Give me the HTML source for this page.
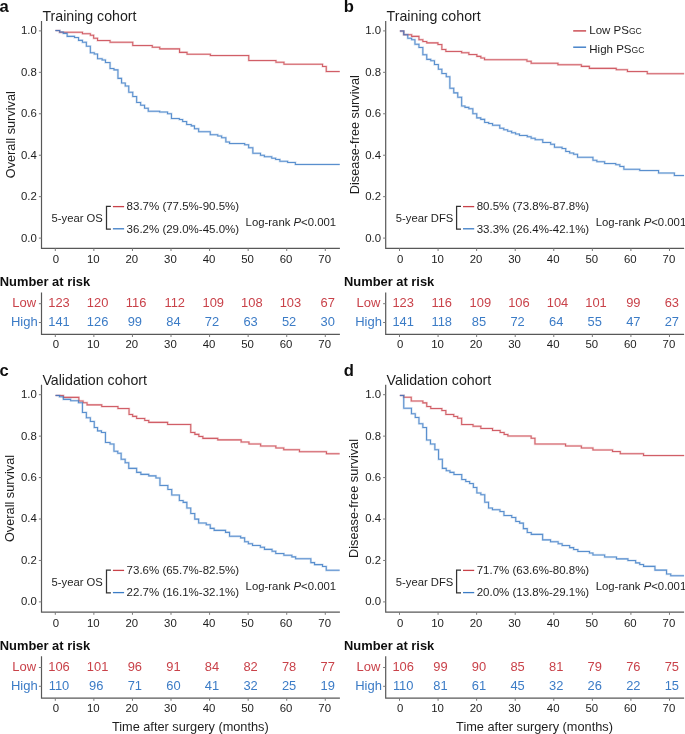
<!DOCTYPE html>
<html><head><meta charset="utf-8"><style>
html,body{margin:0;padding:0;background:#fff;}
svg{display:block;}
text{font-family:"Liberation Sans",sans-serif;}
</style></head><body>
<svg width="685" height="734" viewBox="0 0 685 734">
<defs><filter id="bl" x="0" y="0" width="1" height="1"><feGaussianBlur stdDeviation="0.3"/></filter></defs>
<rect width="685" height="734" fill="#fff"/>
<g filter="url(#bl)">
<text x="-0.5" y="12.3" font-weight="bold" font-size="16.6" fill="#111">a</text>
<text x="42.4" y="21.1" font-size="14.2" fill="#1e1e1e">Training cohort</text>
<path d="M41.5,20.9 V248.4 H339.9" fill="none" stroke="#585858" stroke-width="1.2"/>
<line x1="38.9" y1="238.10" x2="41.5" y2="238.10" stroke="#7a7a7a" stroke-width="1.0"/>
<text x="36.8" y="241.50" text-anchor="end" font-size="11.4" fill="#1e1e1e">0.0</text>
<line x1="38.9" y1="196.66" x2="41.5" y2="196.66" stroke="#7a7a7a" stroke-width="1.0"/>
<text x="36.8" y="200.06" text-anchor="end" font-size="11.4" fill="#1e1e1e">0.2</text>
<line x1="38.9" y1="155.22" x2="41.5" y2="155.22" stroke="#7a7a7a" stroke-width="1.0"/>
<text x="36.8" y="158.62" text-anchor="end" font-size="11.4" fill="#1e1e1e">0.4</text>
<line x1="38.9" y1="113.78" x2="41.5" y2="113.78" stroke="#7a7a7a" stroke-width="1.0"/>
<text x="36.8" y="117.18" text-anchor="end" font-size="11.4" fill="#1e1e1e">0.6</text>
<line x1="38.9" y1="72.34" x2="41.5" y2="72.34" stroke="#7a7a7a" stroke-width="1.0"/>
<text x="36.8" y="75.74" text-anchor="end" font-size="11.4" fill="#1e1e1e">0.8</text>
<line x1="38.9" y1="30.90" x2="41.5" y2="30.90" stroke="#7a7a7a" stroke-width="1.0"/>
<text x="36.8" y="34.30" text-anchor="end" font-size="11.4" fill="#1e1e1e">1.0</text>
<line x1="55.30" y1="248.4" x2="55.30" y2="251.0" stroke="#7a7a7a" stroke-width="1.0"/>
<text x="56.00" y="262.7" text-anchor="middle" font-size="11.4" fill="#1e1e1e">0</text>
<line x1="93.87" y1="248.4" x2="93.87" y2="251.0" stroke="#7a7a7a" stroke-width="1.0"/>
<text x="93.27" y="262.7" text-anchor="middle" font-size="11.4" fill="#1e1e1e">10</text>
<line x1="132.44" y1="248.4" x2="132.44" y2="251.0" stroke="#7a7a7a" stroke-width="1.0"/>
<text x="131.84" y="262.7" text-anchor="middle" font-size="11.4" fill="#1e1e1e">20</text>
<line x1="171.01" y1="248.4" x2="171.01" y2="251.0" stroke="#7a7a7a" stroke-width="1.0"/>
<text x="170.41" y="262.7" text-anchor="middle" font-size="11.4" fill="#1e1e1e">30</text>
<line x1="209.58" y1="248.4" x2="209.58" y2="251.0" stroke="#7a7a7a" stroke-width="1.0"/>
<text x="208.98" y="262.7" text-anchor="middle" font-size="11.4" fill="#1e1e1e">40</text>
<line x1="248.15" y1="248.4" x2="248.15" y2="251.0" stroke="#7a7a7a" stroke-width="1.0"/>
<text x="247.55" y="262.7" text-anchor="middle" font-size="11.4" fill="#1e1e1e">50</text>
<line x1="286.72" y1="248.4" x2="286.72" y2="251.0" stroke="#7a7a7a" stroke-width="1.0"/>
<text x="286.12" y="262.7" text-anchor="middle" font-size="11.4" fill="#1e1e1e">60</text>
<line x1="325.29" y1="248.4" x2="325.29" y2="251.0" stroke="#7a7a7a" stroke-width="1.0"/>
<text x="324.69" y="262.7" text-anchor="middle" font-size="11.4" fill="#1e1e1e">70</text>
<text transform="translate(14.7,134.7) rotate(-90)" x="0" y="0" text-anchor="middle" font-size="12.75" fill="#1e1e1e">Overall survival</text>
<text x="51.6" y="222.2" font-size="11.25" fill="#1e1e1e">5-year OS</text>
<path d="M110.9,206.4 H106.5 V229 H110.9" transform="translate(0,0)" fill="none" stroke="#333333" stroke-width="1.25"/>
<line x1="112.9" y1="206.6" x2="124.1" y2="206.6" stroke="#C9424A" stroke-width="1.3"/>
<line x1="112.9" y1="228.8" x2="124.1" y2="228.8" stroke="#3B7BC6" stroke-width="1.3"/>
<text x="126.6" y="210.2" font-size="11.5" fill="#1e1e1e">83.7% (77.5%-90.5%)</text>
<text x="126.6" y="232.5" font-size="11.5" fill="#1e1e1e">36.2% (29.0%-45.0%)</text>
<text x="245.6" y="226.3" font-size="11.35" fill="#1e1e1e">Log-rank <tspan font-style="italic">P</tspan>&lt;0.001</text>
<text x="-0.2" y="286.1" font-weight="bold" font-size="12.9" fill="#111">Number at risk</text>
<path d="M41.5,292.4 V334.4 H339.9" fill="none" stroke="#585858" stroke-width="1.2"/>
<line x1="38.9" y1="303.7" x2="41.5" y2="303.7" stroke="#7a7a7a" stroke-width="1.0"/>
<line x1="38.9" y1="322.5" x2="41.5" y2="322.5" stroke="#7a7a7a" stroke-width="1.0"/>
<text x="24.3" y="306.9" text-anchor="middle" font-size="13" fill="#C9424A">Low</text>
<text x="24.3" y="325.8" text-anchor="middle" font-size="13" fill="#3B7BC6">High</text>
<line x1="55.30" y1="334.4" x2="55.30" y2="337.0" stroke="#7a7a7a" stroke-width="1.0"/>
<text x="56.00" y="348.2" text-anchor="middle" font-size="11.4" fill="#1e1e1e">0</text>
<text x="59.00" y="306.9" text-anchor="middle" font-size="12.9" fill="#C9424A">123</text>
<text x="59.00" y="325.8" text-anchor="middle" font-size="12.9" fill="#3B7BC6">141</text>
<line x1="93.87" y1="334.4" x2="93.87" y2="337.0" stroke="#7a7a7a" stroke-width="1.0"/>
<text x="93.27" y="348.2" text-anchor="middle" font-size="11.4" fill="#1e1e1e">10</text>
<text x="97.57" y="306.9" text-anchor="middle" font-size="12.9" fill="#C9424A">120</text>
<text x="97.57" y="325.8" text-anchor="middle" font-size="12.9" fill="#3B7BC6">126</text>
<line x1="132.44" y1="334.4" x2="132.44" y2="337.0" stroke="#7a7a7a" stroke-width="1.0"/>
<text x="131.84" y="348.2" text-anchor="middle" font-size="11.4" fill="#1e1e1e">20</text>
<text x="136.14" y="306.9" text-anchor="middle" font-size="12.9" fill="#C9424A">116</text>
<text x="134.84" y="325.8" text-anchor="middle" font-size="12.9" fill="#3B7BC6">99</text>
<line x1="171.01" y1="334.4" x2="171.01" y2="337.0" stroke="#7a7a7a" stroke-width="1.0"/>
<text x="170.41" y="348.2" text-anchor="middle" font-size="11.4" fill="#1e1e1e">30</text>
<text x="174.71" y="306.9" text-anchor="middle" font-size="12.9" fill="#C9424A">112</text>
<text x="173.41" y="325.8" text-anchor="middle" font-size="12.9" fill="#3B7BC6">84</text>
<line x1="209.58" y1="334.4" x2="209.58" y2="337.0" stroke="#7a7a7a" stroke-width="1.0"/>
<text x="208.98" y="348.2" text-anchor="middle" font-size="11.4" fill="#1e1e1e">40</text>
<text x="213.28" y="306.9" text-anchor="middle" font-size="12.9" fill="#C9424A">109</text>
<text x="211.98" y="325.8" text-anchor="middle" font-size="12.9" fill="#3B7BC6">72</text>
<line x1="248.15" y1="334.4" x2="248.15" y2="337.0" stroke="#7a7a7a" stroke-width="1.0"/>
<text x="247.55" y="348.2" text-anchor="middle" font-size="11.4" fill="#1e1e1e">50</text>
<text x="251.85" y="306.9" text-anchor="middle" font-size="12.9" fill="#C9424A">108</text>
<text x="250.55" y="325.8" text-anchor="middle" font-size="12.9" fill="#3B7BC6">63</text>
<line x1="286.72" y1="334.4" x2="286.72" y2="337.0" stroke="#7a7a7a" stroke-width="1.0"/>
<text x="286.12" y="348.2" text-anchor="middle" font-size="11.4" fill="#1e1e1e">60</text>
<text x="290.42" y="306.9" text-anchor="middle" font-size="12.9" fill="#C9424A">103</text>
<text x="289.12" y="325.8" text-anchor="middle" font-size="12.9" fill="#3B7BC6">52</text>
<line x1="325.29" y1="334.4" x2="325.29" y2="337.0" stroke="#7a7a7a" stroke-width="1.0"/>
<text x="324.69" y="348.2" text-anchor="middle" font-size="11.4" fill="#1e1e1e">70</text>
<text x="327.69" y="306.9" text-anchor="middle" font-size="12.9" fill="#C9424A">67</text>
<text x="327.69" y="325.8" text-anchor="middle" font-size="12.9" fill="#3B7BC6">30</text>
<text x="343.7" y="12.3" font-weight="bold" font-size="16.6" fill="#111">b</text>
<text x="386.59999999999997" y="21.1" font-size="14.2" fill="#1e1e1e">Training cohort</text>
<path d="M385.7,20.9 V248.4 H684.0999999999999" fill="none" stroke="#585858" stroke-width="1.2"/>
<line x1="383.09999999999997" y1="238.10" x2="385.7" y2="238.10" stroke="#7a7a7a" stroke-width="1.0"/>
<text x="381.0" y="241.50" text-anchor="end" font-size="11.4" fill="#1e1e1e">0.0</text>
<line x1="383.09999999999997" y1="196.66" x2="385.7" y2="196.66" stroke="#7a7a7a" stroke-width="1.0"/>
<text x="381.0" y="200.06" text-anchor="end" font-size="11.4" fill="#1e1e1e">0.2</text>
<line x1="383.09999999999997" y1="155.22" x2="385.7" y2="155.22" stroke="#7a7a7a" stroke-width="1.0"/>
<text x="381.0" y="158.62" text-anchor="end" font-size="11.4" fill="#1e1e1e">0.4</text>
<line x1="383.09999999999997" y1="113.78" x2="385.7" y2="113.78" stroke="#7a7a7a" stroke-width="1.0"/>
<text x="381.0" y="117.18" text-anchor="end" font-size="11.4" fill="#1e1e1e">0.6</text>
<line x1="383.09999999999997" y1="72.34" x2="385.7" y2="72.34" stroke="#7a7a7a" stroke-width="1.0"/>
<text x="381.0" y="75.74" text-anchor="end" font-size="11.4" fill="#1e1e1e">0.8</text>
<line x1="383.09999999999997" y1="30.90" x2="385.7" y2="30.90" stroke="#7a7a7a" stroke-width="1.0"/>
<text x="381.0" y="34.30" text-anchor="end" font-size="11.4" fill="#1e1e1e">1.0</text>
<line x1="399.50" y1="248.4" x2="399.50" y2="251.0" stroke="#7a7a7a" stroke-width="1.0"/>
<text x="400.20" y="262.7" text-anchor="middle" font-size="11.4" fill="#1e1e1e">0</text>
<line x1="438.07" y1="248.4" x2="438.07" y2="251.0" stroke="#7a7a7a" stroke-width="1.0"/>
<text x="437.47" y="262.7" text-anchor="middle" font-size="11.4" fill="#1e1e1e">10</text>
<line x1="476.64" y1="248.4" x2="476.64" y2="251.0" stroke="#7a7a7a" stroke-width="1.0"/>
<text x="476.04" y="262.7" text-anchor="middle" font-size="11.4" fill="#1e1e1e">20</text>
<line x1="515.21" y1="248.4" x2="515.21" y2="251.0" stroke="#7a7a7a" stroke-width="1.0"/>
<text x="514.61" y="262.7" text-anchor="middle" font-size="11.4" fill="#1e1e1e">30</text>
<line x1="553.78" y1="248.4" x2="553.78" y2="251.0" stroke="#7a7a7a" stroke-width="1.0"/>
<text x="553.18" y="262.7" text-anchor="middle" font-size="11.4" fill="#1e1e1e">40</text>
<line x1="592.35" y1="248.4" x2="592.35" y2="251.0" stroke="#7a7a7a" stroke-width="1.0"/>
<text x="591.75" y="262.7" text-anchor="middle" font-size="11.4" fill="#1e1e1e">50</text>
<line x1="630.92" y1="248.4" x2="630.92" y2="251.0" stroke="#7a7a7a" stroke-width="1.0"/>
<text x="630.32" y="262.7" text-anchor="middle" font-size="11.4" fill="#1e1e1e">60</text>
<line x1="669.49" y1="248.4" x2="669.49" y2="251.0" stroke="#7a7a7a" stroke-width="1.0"/>
<text x="668.89" y="262.7" text-anchor="middle" font-size="11.4" fill="#1e1e1e">70</text>
<text transform="translate(358.9,134.7) rotate(-90)" x="0" y="0" text-anchor="middle" font-size="12.75" fill="#1e1e1e">Disease-free survival</text>
<text x="395.8" y="222.2" font-size="11.25" fill="#1e1e1e">5-year DFS</text>
<path d="M110.9,206.4 H106.5 V229 H110.9" transform="translate(350.09999999999997,0)" fill="none" stroke="#333333" stroke-width="1.25"/>
<line x1="463.0" y1="206.6" x2="474.19999999999993" y2="206.6" stroke="#C9424A" stroke-width="1.3"/>
<line x1="463.0" y1="228.8" x2="474.19999999999993" y2="228.8" stroke="#3B7BC6" stroke-width="1.3"/>
<text x="476.69999999999993" y="210.2" font-size="11.5" fill="#1e1e1e">80.5% (73.8%-87.8%)</text>
<text x="476.69999999999993" y="232.5" font-size="11.5" fill="#1e1e1e">33.3% (26.4%-42.1%)</text>
<text x="595.6999999999999" y="226.3" font-size="11.35" fill="#1e1e1e">Log-rank <tspan font-style="italic">P</tspan>&lt;0.001</text>
<text x="344.0" y="286.1" font-weight="bold" font-size="12.9" fill="#111">Number at risk</text>
<path d="M385.7,292.4 V334.4 H684.0999999999999" fill="none" stroke="#585858" stroke-width="1.2"/>
<line x1="383.09999999999997" y1="303.7" x2="385.7" y2="303.7" stroke="#7a7a7a" stroke-width="1.0"/>
<line x1="383.09999999999997" y1="322.5" x2="385.7" y2="322.5" stroke="#7a7a7a" stroke-width="1.0"/>
<text x="368.5" y="306.9" text-anchor="middle" font-size="13" fill="#C9424A">Low</text>
<text x="368.5" y="325.8" text-anchor="middle" font-size="13" fill="#3B7BC6">High</text>
<line x1="399.50" y1="334.4" x2="399.50" y2="337.0" stroke="#7a7a7a" stroke-width="1.0"/>
<text x="400.20" y="348.2" text-anchor="middle" font-size="11.4" fill="#1e1e1e">0</text>
<text x="403.20" y="306.9" text-anchor="middle" font-size="12.9" fill="#C9424A">123</text>
<text x="403.20" y="325.8" text-anchor="middle" font-size="12.9" fill="#3B7BC6">141</text>
<line x1="438.07" y1="334.4" x2="438.07" y2="337.0" stroke="#7a7a7a" stroke-width="1.0"/>
<text x="437.47" y="348.2" text-anchor="middle" font-size="11.4" fill="#1e1e1e">10</text>
<text x="441.77" y="306.9" text-anchor="middle" font-size="12.9" fill="#C9424A">116</text>
<text x="441.77" y="325.8" text-anchor="middle" font-size="12.9" fill="#3B7BC6">118</text>
<line x1="476.64" y1="334.4" x2="476.64" y2="337.0" stroke="#7a7a7a" stroke-width="1.0"/>
<text x="476.04" y="348.2" text-anchor="middle" font-size="11.4" fill="#1e1e1e">20</text>
<text x="480.34" y="306.9" text-anchor="middle" font-size="12.9" fill="#C9424A">109</text>
<text x="479.04" y="325.8" text-anchor="middle" font-size="12.9" fill="#3B7BC6">85</text>
<line x1="515.21" y1="334.4" x2="515.21" y2="337.0" stroke="#7a7a7a" stroke-width="1.0"/>
<text x="514.61" y="348.2" text-anchor="middle" font-size="11.4" fill="#1e1e1e">30</text>
<text x="518.91" y="306.9" text-anchor="middle" font-size="12.9" fill="#C9424A">106</text>
<text x="517.61" y="325.8" text-anchor="middle" font-size="12.9" fill="#3B7BC6">72</text>
<line x1="553.78" y1="334.4" x2="553.78" y2="337.0" stroke="#7a7a7a" stroke-width="1.0"/>
<text x="553.18" y="348.2" text-anchor="middle" font-size="11.4" fill="#1e1e1e">40</text>
<text x="557.48" y="306.9" text-anchor="middle" font-size="12.9" fill="#C9424A">104</text>
<text x="556.18" y="325.8" text-anchor="middle" font-size="12.9" fill="#3B7BC6">64</text>
<line x1="592.35" y1="334.4" x2="592.35" y2="337.0" stroke="#7a7a7a" stroke-width="1.0"/>
<text x="591.75" y="348.2" text-anchor="middle" font-size="11.4" fill="#1e1e1e">50</text>
<text x="596.05" y="306.9" text-anchor="middle" font-size="12.9" fill="#C9424A">101</text>
<text x="594.75" y="325.8" text-anchor="middle" font-size="12.9" fill="#3B7BC6">55</text>
<line x1="630.92" y1="334.4" x2="630.92" y2="337.0" stroke="#7a7a7a" stroke-width="1.0"/>
<text x="630.32" y="348.2" text-anchor="middle" font-size="11.4" fill="#1e1e1e">60</text>
<text x="633.32" y="306.9" text-anchor="middle" font-size="12.9" fill="#C9424A">99</text>
<text x="633.32" y="325.8" text-anchor="middle" font-size="12.9" fill="#3B7BC6">47</text>
<line x1="669.49" y1="334.4" x2="669.49" y2="337.0" stroke="#7a7a7a" stroke-width="1.0"/>
<text x="668.89" y="348.2" text-anchor="middle" font-size="11.4" fill="#1e1e1e">70</text>
<text x="671.89" y="306.9" text-anchor="middle" font-size="12.9" fill="#C9424A">63</text>
<text x="671.89" y="325.8" text-anchor="middle" font-size="12.9" fill="#3B7BC6">27</text>
<line x1="573.2" y1="30.9" x2="586.1" y2="30.9" stroke="#C9424A" stroke-width="1.4"/>
<line x1="573.2" y1="47.2" x2="586.1" y2="47.2" stroke="#3B7BC6" stroke-width="1.4"/>
<text x="589.3" y="34.2" font-size="11.5" fill="#1e1e1e">Low PS<tspan font-size="8.6">GC</tspan></text>
<text x="589.3" y="53.2" font-size="11.5" fill="#1e1e1e">High PS<tspan font-size="8.6">GC</tspan></text>
<text x="-0.5" y="376.1" font-weight="bold" font-size="16.6" fill="#111">c</text>
<text x="42.4" y="384.90000000000003" font-size="14.2" fill="#1e1e1e">Validation cohort</text>
<path d="M41.5,384.7 V612.2 H339.9" fill="none" stroke="#585858" stroke-width="1.2"/>
<line x1="38.9" y1="601.90" x2="41.5" y2="601.90" stroke="#7a7a7a" stroke-width="1.0"/>
<text x="36.8" y="605.30" text-anchor="end" font-size="11.4" fill="#1e1e1e">0.0</text>
<line x1="38.9" y1="560.46" x2="41.5" y2="560.46" stroke="#7a7a7a" stroke-width="1.0"/>
<text x="36.8" y="563.86" text-anchor="end" font-size="11.4" fill="#1e1e1e">0.2</text>
<line x1="38.9" y1="519.02" x2="41.5" y2="519.02" stroke="#7a7a7a" stroke-width="1.0"/>
<text x="36.8" y="522.42" text-anchor="end" font-size="11.4" fill="#1e1e1e">0.4</text>
<line x1="38.9" y1="477.58" x2="41.5" y2="477.58" stroke="#7a7a7a" stroke-width="1.0"/>
<text x="36.8" y="480.98" text-anchor="end" font-size="11.4" fill="#1e1e1e">0.6</text>
<line x1="38.9" y1="436.14" x2="41.5" y2="436.14" stroke="#7a7a7a" stroke-width="1.0"/>
<text x="36.8" y="439.54" text-anchor="end" font-size="11.4" fill="#1e1e1e">0.8</text>
<line x1="38.9" y1="394.70" x2="41.5" y2="394.70" stroke="#7a7a7a" stroke-width="1.0"/>
<text x="36.8" y="398.10" text-anchor="end" font-size="11.4" fill="#1e1e1e">1.0</text>
<line x1="55.30" y1="612.2" x2="55.30" y2="614.8" stroke="#7a7a7a" stroke-width="1.0"/>
<text x="56.00" y="626.5" text-anchor="middle" font-size="11.4" fill="#1e1e1e">0</text>
<line x1="93.87" y1="612.2" x2="93.87" y2="614.8" stroke="#7a7a7a" stroke-width="1.0"/>
<text x="93.27" y="626.5" text-anchor="middle" font-size="11.4" fill="#1e1e1e">10</text>
<line x1="132.44" y1="612.2" x2="132.44" y2="614.8" stroke="#7a7a7a" stroke-width="1.0"/>
<text x="131.84" y="626.5" text-anchor="middle" font-size="11.4" fill="#1e1e1e">20</text>
<line x1="171.01" y1="612.2" x2="171.01" y2="614.8" stroke="#7a7a7a" stroke-width="1.0"/>
<text x="170.41" y="626.5" text-anchor="middle" font-size="11.4" fill="#1e1e1e">30</text>
<line x1="209.58" y1="612.2" x2="209.58" y2="614.8" stroke="#7a7a7a" stroke-width="1.0"/>
<text x="208.98" y="626.5" text-anchor="middle" font-size="11.4" fill="#1e1e1e">40</text>
<line x1="248.15" y1="612.2" x2="248.15" y2="614.8" stroke="#7a7a7a" stroke-width="1.0"/>
<text x="247.55" y="626.5" text-anchor="middle" font-size="11.4" fill="#1e1e1e">50</text>
<line x1="286.72" y1="612.2" x2="286.72" y2="614.8" stroke="#7a7a7a" stroke-width="1.0"/>
<text x="286.12" y="626.5" text-anchor="middle" font-size="11.4" fill="#1e1e1e">60</text>
<line x1="325.29" y1="612.2" x2="325.29" y2="614.8" stroke="#7a7a7a" stroke-width="1.0"/>
<text x="324.69" y="626.5" text-anchor="middle" font-size="11.4" fill="#1e1e1e">70</text>
<text transform="translate(13.799999999999999,498.5) rotate(-90)" x="0" y="0" text-anchor="middle" font-size="12.75" fill="#1e1e1e">Overall survival</text>
<text x="51.6" y="586.0" font-size="11.25" fill="#1e1e1e">5-year OS</text>
<path d="M110.9,570.2 H106.5 V592.8 H110.9" transform="translate(0,0)" fill="none" stroke="#333333" stroke-width="1.25"/>
<line x1="112.9" y1="570.4" x2="124.1" y2="570.4" stroke="#C9424A" stroke-width="1.3"/>
<line x1="112.9" y1="592.6" x2="124.1" y2="592.6" stroke="#3B7BC6" stroke-width="1.3"/>
<text x="126.6" y="574.0" font-size="11.5" fill="#1e1e1e">73.6% (65.7%-82.5%)</text>
<text x="126.6" y="596.3" font-size="11.5" fill="#1e1e1e">22.7% (16.1%-32.1%)</text>
<text x="245.6" y="590.1" font-size="11.35" fill="#1e1e1e">Log-rank <tspan font-style="italic">P</tspan>&lt;0.001</text>
<text x="-0.2" y="649.9000000000001" font-weight="bold" font-size="12.9" fill="#111">Number at risk</text>
<path d="M41.5,656.2 V698.2 H339.9" fill="none" stroke="#585858" stroke-width="1.2"/>
<line x1="38.9" y1="667.5" x2="41.5" y2="667.5" stroke="#7a7a7a" stroke-width="1.0"/>
<line x1="38.9" y1="686.3" x2="41.5" y2="686.3" stroke="#7a7a7a" stroke-width="1.0"/>
<text x="24.3" y="670.7" text-anchor="middle" font-size="13" fill="#C9424A">Low</text>
<text x="24.3" y="689.6" text-anchor="middle" font-size="13" fill="#3B7BC6">High</text>
<line x1="55.30" y1="698.2" x2="55.30" y2="700.8" stroke="#7a7a7a" stroke-width="1.0"/>
<text x="56.00" y="712.0" text-anchor="middle" font-size="11.4" fill="#1e1e1e">0</text>
<text x="59.00" y="670.7" text-anchor="middle" font-size="12.9" fill="#C9424A">106</text>
<text x="59.00" y="689.6" text-anchor="middle" font-size="12.9" fill="#3B7BC6">110</text>
<line x1="93.87" y1="698.2" x2="93.87" y2="700.8" stroke="#7a7a7a" stroke-width="1.0"/>
<text x="93.27" y="712.0" text-anchor="middle" font-size="11.4" fill="#1e1e1e">10</text>
<text x="97.57" y="670.7" text-anchor="middle" font-size="12.9" fill="#C9424A">101</text>
<text x="96.27" y="689.6" text-anchor="middle" font-size="12.9" fill="#3B7BC6">96</text>
<line x1="132.44" y1="698.2" x2="132.44" y2="700.8" stroke="#7a7a7a" stroke-width="1.0"/>
<text x="131.84" y="712.0" text-anchor="middle" font-size="11.4" fill="#1e1e1e">20</text>
<text x="134.84" y="670.7" text-anchor="middle" font-size="12.9" fill="#C9424A">96</text>
<text x="134.84" y="689.6" text-anchor="middle" font-size="12.9" fill="#3B7BC6">71</text>
<line x1="171.01" y1="698.2" x2="171.01" y2="700.8" stroke="#7a7a7a" stroke-width="1.0"/>
<text x="170.41" y="712.0" text-anchor="middle" font-size="11.4" fill="#1e1e1e">30</text>
<text x="173.41" y="670.7" text-anchor="middle" font-size="12.9" fill="#C9424A">91</text>
<text x="173.41" y="689.6" text-anchor="middle" font-size="12.9" fill="#3B7BC6">60</text>
<line x1="209.58" y1="698.2" x2="209.58" y2="700.8" stroke="#7a7a7a" stroke-width="1.0"/>
<text x="208.98" y="712.0" text-anchor="middle" font-size="11.4" fill="#1e1e1e">40</text>
<text x="211.98" y="670.7" text-anchor="middle" font-size="12.9" fill="#C9424A">84</text>
<text x="211.98" y="689.6" text-anchor="middle" font-size="12.9" fill="#3B7BC6">41</text>
<line x1="248.15" y1="698.2" x2="248.15" y2="700.8" stroke="#7a7a7a" stroke-width="1.0"/>
<text x="247.55" y="712.0" text-anchor="middle" font-size="11.4" fill="#1e1e1e">50</text>
<text x="250.55" y="670.7" text-anchor="middle" font-size="12.9" fill="#C9424A">82</text>
<text x="250.55" y="689.6" text-anchor="middle" font-size="12.9" fill="#3B7BC6">32</text>
<line x1="286.72" y1="698.2" x2="286.72" y2="700.8" stroke="#7a7a7a" stroke-width="1.0"/>
<text x="286.12" y="712.0" text-anchor="middle" font-size="11.4" fill="#1e1e1e">60</text>
<text x="289.12" y="670.7" text-anchor="middle" font-size="12.9" fill="#C9424A">78</text>
<text x="289.12" y="689.6" text-anchor="middle" font-size="12.9" fill="#3B7BC6">25</text>
<line x1="325.29" y1="698.2" x2="325.29" y2="700.8" stroke="#7a7a7a" stroke-width="1.0"/>
<text x="324.69" y="712.0" text-anchor="middle" font-size="11.4" fill="#1e1e1e">70</text>
<text x="327.69" y="670.7" text-anchor="middle" font-size="12.9" fill="#C9424A">77</text>
<text x="327.69" y="689.6" text-anchor="middle" font-size="12.9" fill="#3B7BC6">19</text>
<text x="190.3" y="730.8" text-anchor="middle" font-size="12.75" fill="#1e1e1e">Time after surgery (months)</text>
<text x="343.7" y="376.1" font-weight="bold" font-size="16.6" fill="#111">d</text>
<text x="386.59999999999997" y="384.90000000000003" font-size="14.2" fill="#1e1e1e">Validation cohort</text>
<path d="M385.7,384.7 V612.2 H684.0999999999999" fill="none" stroke="#585858" stroke-width="1.2"/>
<line x1="383.09999999999997" y1="601.90" x2="385.7" y2="601.90" stroke="#7a7a7a" stroke-width="1.0"/>
<text x="381.0" y="605.30" text-anchor="end" font-size="11.4" fill="#1e1e1e">0.0</text>
<line x1="383.09999999999997" y1="560.46" x2="385.7" y2="560.46" stroke="#7a7a7a" stroke-width="1.0"/>
<text x="381.0" y="563.86" text-anchor="end" font-size="11.4" fill="#1e1e1e">0.2</text>
<line x1="383.09999999999997" y1="519.02" x2="385.7" y2="519.02" stroke="#7a7a7a" stroke-width="1.0"/>
<text x="381.0" y="522.42" text-anchor="end" font-size="11.4" fill="#1e1e1e">0.4</text>
<line x1="383.09999999999997" y1="477.58" x2="385.7" y2="477.58" stroke="#7a7a7a" stroke-width="1.0"/>
<text x="381.0" y="480.98" text-anchor="end" font-size="11.4" fill="#1e1e1e">0.6</text>
<line x1="383.09999999999997" y1="436.14" x2="385.7" y2="436.14" stroke="#7a7a7a" stroke-width="1.0"/>
<text x="381.0" y="439.54" text-anchor="end" font-size="11.4" fill="#1e1e1e">0.8</text>
<line x1="383.09999999999997" y1="394.70" x2="385.7" y2="394.70" stroke="#7a7a7a" stroke-width="1.0"/>
<text x="381.0" y="398.10" text-anchor="end" font-size="11.4" fill="#1e1e1e">1.0</text>
<line x1="399.50" y1="612.2" x2="399.50" y2="614.8" stroke="#7a7a7a" stroke-width="1.0"/>
<text x="400.20" y="626.5" text-anchor="middle" font-size="11.4" fill="#1e1e1e">0</text>
<line x1="438.07" y1="612.2" x2="438.07" y2="614.8" stroke="#7a7a7a" stroke-width="1.0"/>
<text x="437.47" y="626.5" text-anchor="middle" font-size="11.4" fill="#1e1e1e">10</text>
<line x1="476.64" y1="612.2" x2="476.64" y2="614.8" stroke="#7a7a7a" stroke-width="1.0"/>
<text x="476.04" y="626.5" text-anchor="middle" font-size="11.4" fill="#1e1e1e">20</text>
<line x1="515.21" y1="612.2" x2="515.21" y2="614.8" stroke="#7a7a7a" stroke-width="1.0"/>
<text x="514.61" y="626.5" text-anchor="middle" font-size="11.4" fill="#1e1e1e">30</text>
<line x1="553.78" y1="612.2" x2="553.78" y2="614.8" stroke="#7a7a7a" stroke-width="1.0"/>
<text x="553.18" y="626.5" text-anchor="middle" font-size="11.4" fill="#1e1e1e">40</text>
<line x1="592.35" y1="612.2" x2="592.35" y2="614.8" stroke="#7a7a7a" stroke-width="1.0"/>
<text x="591.75" y="626.5" text-anchor="middle" font-size="11.4" fill="#1e1e1e">50</text>
<line x1="630.92" y1="612.2" x2="630.92" y2="614.8" stroke="#7a7a7a" stroke-width="1.0"/>
<text x="630.32" y="626.5" text-anchor="middle" font-size="11.4" fill="#1e1e1e">60</text>
<line x1="669.49" y1="612.2" x2="669.49" y2="614.8" stroke="#7a7a7a" stroke-width="1.0"/>
<text x="668.89" y="626.5" text-anchor="middle" font-size="11.4" fill="#1e1e1e">70</text>
<text transform="translate(358.0,498.5) rotate(-90)" x="0" y="0" text-anchor="middle" font-size="12.75" fill="#1e1e1e">Disease-free survival</text>
<text x="395.8" y="586.0" font-size="11.25" fill="#1e1e1e">5-year DFS</text>
<path d="M110.9,570.2 H106.5 V592.8 H110.9" transform="translate(350.09999999999997,0)" fill="none" stroke="#333333" stroke-width="1.25"/>
<line x1="463.0" y1="570.4" x2="474.19999999999993" y2="570.4" stroke="#C9424A" stroke-width="1.3"/>
<line x1="463.0" y1="592.6" x2="474.19999999999993" y2="592.6" stroke="#3B7BC6" stroke-width="1.3"/>
<text x="476.69999999999993" y="574.0" font-size="11.5" fill="#1e1e1e">71.7% (63.6%-80.8%)</text>
<text x="476.69999999999993" y="596.3" font-size="11.5" fill="#1e1e1e">20.0% (13.8%-29.1%)</text>
<text x="595.6999999999999" y="590.1" font-size="11.35" fill="#1e1e1e">Log-rank <tspan font-style="italic">P</tspan>&lt;0.001</text>
<text x="344.0" y="649.9000000000001" font-weight="bold" font-size="12.9" fill="#111">Number at risk</text>
<path d="M385.7,656.2 V698.2 H684.0999999999999" fill="none" stroke="#585858" stroke-width="1.2"/>
<line x1="383.09999999999997" y1="667.5" x2="385.7" y2="667.5" stroke="#7a7a7a" stroke-width="1.0"/>
<line x1="383.09999999999997" y1="686.3" x2="385.7" y2="686.3" stroke="#7a7a7a" stroke-width="1.0"/>
<text x="368.5" y="670.7" text-anchor="middle" font-size="13" fill="#C9424A">Low</text>
<text x="368.5" y="689.6" text-anchor="middle" font-size="13" fill="#3B7BC6">High</text>
<line x1="399.50" y1="698.2" x2="399.50" y2="700.8" stroke="#7a7a7a" stroke-width="1.0"/>
<text x="400.20" y="712.0" text-anchor="middle" font-size="11.4" fill="#1e1e1e">0</text>
<text x="403.20" y="670.7" text-anchor="middle" font-size="12.9" fill="#C9424A">106</text>
<text x="403.20" y="689.6" text-anchor="middle" font-size="12.9" fill="#3B7BC6">110</text>
<line x1="438.07" y1="698.2" x2="438.07" y2="700.8" stroke="#7a7a7a" stroke-width="1.0"/>
<text x="437.47" y="712.0" text-anchor="middle" font-size="11.4" fill="#1e1e1e">10</text>
<text x="440.47" y="670.7" text-anchor="middle" font-size="12.9" fill="#C9424A">99</text>
<text x="440.47" y="689.6" text-anchor="middle" font-size="12.9" fill="#3B7BC6">81</text>
<line x1="476.64" y1="698.2" x2="476.64" y2="700.8" stroke="#7a7a7a" stroke-width="1.0"/>
<text x="476.04" y="712.0" text-anchor="middle" font-size="11.4" fill="#1e1e1e">20</text>
<text x="479.04" y="670.7" text-anchor="middle" font-size="12.9" fill="#C9424A">90</text>
<text x="479.04" y="689.6" text-anchor="middle" font-size="12.9" fill="#3B7BC6">61</text>
<line x1="515.21" y1="698.2" x2="515.21" y2="700.8" stroke="#7a7a7a" stroke-width="1.0"/>
<text x="514.61" y="712.0" text-anchor="middle" font-size="11.4" fill="#1e1e1e">30</text>
<text x="517.61" y="670.7" text-anchor="middle" font-size="12.9" fill="#C9424A">85</text>
<text x="517.61" y="689.6" text-anchor="middle" font-size="12.9" fill="#3B7BC6">45</text>
<line x1="553.78" y1="698.2" x2="553.78" y2="700.8" stroke="#7a7a7a" stroke-width="1.0"/>
<text x="553.18" y="712.0" text-anchor="middle" font-size="11.4" fill="#1e1e1e">40</text>
<text x="556.18" y="670.7" text-anchor="middle" font-size="12.9" fill="#C9424A">81</text>
<text x="556.18" y="689.6" text-anchor="middle" font-size="12.9" fill="#3B7BC6">32</text>
<line x1="592.35" y1="698.2" x2="592.35" y2="700.8" stroke="#7a7a7a" stroke-width="1.0"/>
<text x="591.75" y="712.0" text-anchor="middle" font-size="11.4" fill="#1e1e1e">50</text>
<text x="594.75" y="670.7" text-anchor="middle" font-size="12.9" fill="#C9424A">79</text>
<text x="594.75" y="689.6" text-anchor="middle" font-size="12.9" fill="#3B7BC6">26</text>
<line x1="630.92" y1="698.2" x2="630.92" y2="700.8" stroke="#7a7a7a" stroke-width="1.0"/>
<text x="630.32" y="712.0" text-anchor="middle" font-size="11.4" fill="#1e1e1e">60</text>
<text x="633.32" y="670.7" text-anchor="middle" font-size="12.9" fill="#C9424A">76</text>
<text x="633.32" y="689.6" text-anchor="middle" font-size="12.9" fill="#3B7BC6">22</text>
<line x1="669.49" y1="698.2" x2="669.49" y2="700.8" stroke="#7a7a7a" stroke-width="1.0"/>
<text x="668.89" y="712.0" text-anchor="middle" font-size="11.4" fill="#1e1e1e">70</text>
<text x="671.89" y="670.7" text-anchor="middle" font-size="12.9" fill="#C9424A">75</text>
<text x="671.89" y="689.6" text-anchor="middle" font-size="12.9" fill="#3B7BC6">15</text>
<text x="534.5" y="730.8" text-anchor="middle" font-size="12.75" fill="#1e1e1e">Time after surgery (months)</text>
<g transform="translate(0.25,0.15)" fill="none" stroke="#C9424A"><path d="M55.3,30.4 H59.4 V32.1 H82.2 V33.5 H90.1 V35.1 H93.4 V38.1 H97.3 V40.4 H109.8 V42.1 H132.5 V45.4 H152 V47 H159.5 V48.7 H179.3 V52.2 H186.8 V54 H210.1 V55.4 H248.5 V60.4 H275.7 V62.1 H283.7 V64 H322.3 V66.3 H326 V71.4 H339.5" stroke-width="2.3" stroke-opacity="0.22"/><path d="M55.3,30.4 H59.4 V32.1 H82.2 V33.5 H90.1 V35.1 H93.4 V38.1 H97.3 V40.4 H109.8 V42.1 H132.5 V45.4 H152 V47 H159.5 V48.7 H179.3 V52.2 H186.8 V54 H210.1 V55.4 H248.5 V60.4 H275.7 V62.1 H283.7 V64 H322.3 V66.3 H326 V71.4 H339.5" stroke-width="1.05" stroke-opacity="0.8"/></g>
<g transform="translate(0.25,0.15)" fill="none" stroke="#3B7BC6"><path d="M55.1,30.4 H59.4 V31.9 H63 V33.2 H66.9 V36.2 H74.3 V37.4 H78.3 V40.2 H82.2 V42.1 H86.1 V46 H90.1 V52.6 H94 V53.9 H97.3 V58.5 H101.9 V59.8 H105.2 V62.4 H109.8 V68.4 H113.7 V69.7 H117.7 V78.2 H121.3 V82.9 H125 V85.9 H128.5 V92.1 H132.5 V96.4 H136.4 V102.3 H140.4 V105 H144.3 V108 H148 V111.1 H159.4 V111.9 H167.3 V113.5 H171.2 V118.4 H179.1 V119.4 H182.4 V121.4 H186.4 V124.4 H191 V125.7 H194.2 V128.6 H198.4 V131.5 H210 V134.5 H217.5 V135.8 H221.4 V137.5 H225.6 V141.8 H229.3 V143.4 H244.4 V144.7 H248.4 V147.6 H252.6 V153.2 H260.2 V155.2 H264.1 V156.5 H271.5 V158 H275.4 V159.3 H279.6 V161.2 H287.4 V162.3 H295.1 V164.3 H339.5" stroke-width="2.3" stroke-opacity="0.22"/><path d="M55.1,30.4 H59.4 V31.9 H63 V33.2 H66.9 V36.2 H74.3 V37.4 H78.3 V40.2 H82.2 V42.1 H86.1 V46 H90.1 V52.6 H94 V53.9 H97.3 V58.5 H101.9 V59.8 H105.2 V62.4 H109.8 V68.4 H113.7 V69.7 H117.7 V78.2 H121.3 V82.9 H125 V85.9 H128.5 V92.1 H132.5 V96.4 H136.4 V102.3 H140.4 V105 H144.3 V108 H148 V111.1 H159.4 V111.9 H167.3 V113.5 H171.2 V118.4 H179.1 V119.4 H182.4 V121.4 H186.4 V124.4 H191 V125.7 H194.2 V128.6 H198.4 V131.5 H210 V134.5 H217.5 V135.8 H221.4 V137.5 H225.6 V141.8 H229.3 V143.4 H244.4 V144.7 H248.4 V147.6 H252.6 V153.2 H260.2 V155.2 H264.1 V156.5 H271.5 V158 H275.4 V159.3 H279.6 V161.2 H287.4 V162.3 H295.1 V164.3 H339.5" stroke-width="1.05" stroke-opacity="0.8"/></g>
<g transform="translate(0.25,0.15)" fill="none" stroke="#C9424A"><path d="M399.6,30.9 H403.5 V34.5 H411.4 V36.2 H418.7 V39.5 H422.6 V41.4 H426.5 V42.7 H437.7 V44.4 H441.6 V49.3 H445.6 V51.3 H461.4 V52.6 H468.6 V54.4 H476.6 V56.2 H480.6 V57.8 H484.3 V59.5 H526.7 V61.1 H530.9 V63.1 H557.7 V64.6 H581.1 V66.2 H589.1 V68.2 H616 V69.5 H627.2 V71.4 H647 V73.5 H683.9" stroke-width="2.3" stroke-opacity="0.22"/><path d="M399.6,30.9 H403.5 V34.5 H411.4 V36.2 H418.7 V39.5 H422.6 V41.4 H426.5 V42.7 H437.7 V44.4 H441.6 V49.3 H445.6 V51.3 H461.4 V52.6 H468.6 V54.4 H476.6 V56.2 H480.6 V57.8 H484.3 V59.5 H526.7 V61.1 H530.9 V63.1 H557.7 V64.6 H581.1 V66.2 H589.1 V68.2 H616 V69.5 H627.2 V71.4 H647 V73.5 H683.9" stroke-width="1.05" stroke-opacity="0.8"/></g>
<g transform="translate(0.25,0.15)" fill="none" stroke="#3B7BC6"><path d="M399.6,30.9 H403.5 V34.5 H407.5 V38.1 H411.4 V39.5 H414.7 V44.1 H418.7 V47.3 H422.6 V54.6 H426.5 V59.2 H430.5 V60.5 H434.2 V64.4 H438.1 V69 H441.6 V73.4 H446 V76.5 H449.6 V88.1 H453.5 V92.7 H457.5 V97.1 H461.4 V105.9 H464.7 V107.2 H468.6 V108.6 H472.6 V113.5 H476.5 V117.7 H480.5 V119.2 H484.4 V122.3 H488.4 V123.4 H492.3 V125.1 H499.5 V128 H503.5 V129.7 H507.4 V131 H511.4 V132.6 H515.3 V133.9 H519.2 V135.3 H527 V136.6 H530.9 V138.1 H534.9 V139.5 H542.5 V142.3 H550.4 V144.1 H554.2 V147.1 H561.8 V148.4 H565.5 V151.3 H569.4 V152.9 H573.4 V154.2 H577.3 V157.2 H592.7 V160.2 H596.6 V161.5 H604.4 V163.4 H615.5 V164.5 H619.6 V166.3 H623.6 V169.2 H639.5 V170.4 H658.3 V172.9 H674.1 V175.4 H683.8" stroke-width="2.3" stroke-opacity="0.22"/><path d="M399.6,30.9 H403.5 V34.5 H407.5 V38.1 H411.4 V39.5 H414.7 V44.1 H418.7 V47.3 H422.6 V54.6 H426.5 V59.2 H430.5 V60.5 H434.2 V64.4 H438.1 V69 H441.6 V73.4 H446 V76.5 H449.6 V88.1 H453.5 V92.7 H457.5 V97.1 H461.4 V105.9 H464.7 V107.2 H468.6 V108.6 H472.6 V113.5 H476.5 V117.7 H480.5 V119.2 H484.4 V122.3 H488.4 V123.4 H492.3 V125.1 H499.5 V128 H503.5 V129.7 H507.4 V131 H511.4 V132.6 H515.3 V133.9 H519.2 V135.3 H527 V136.6 H530.9 V138.1 H534.9 V139.5 H542.5 V142.3 H550.4 V144.1 H554.2 V147.1 H561.8 V148.4 H565.5 V151.3 H569.4 V152.9 H573.4 V154.2 H577.3 V157.2 H592.7 V160.2 H596.6 V161.5 H604.4 V163.4 H615.5 V164.5 H619.6 V166.3 H623.6 V169.2 H639.5 V170.4 H658.3 V172.9 H674.1 V175.4 H683.8" stroke-width="1.05" stroke-opacity="0.8"/></g>
<g transform="translate(0.25,0.15)" fill="none" stroke="#C9424A"><path d="M55.3,395.3 H63.1 V397.2 H78.6 V400.8 H82.8 V402.5 H86.8 V404.7 H101.5 V406.4 H117.7 V408.4 H128.8 V414.3 H132.4 V416.2 H136.4 V418.3 H144.5 V420.3 H148.5 V422.2 H167.4 V424.3 H190.5 V432.3 H194.6 V434.2 H198.6 V436.3 H202.6 V438.2 H217.5 V439.7 H240.9 V441.9 H248.7 V443.8 H260.4 V445.9 H275.6 V447.8 H283.5 V449.6 H299.2 V451.5 H326.2 V453.6 H339.4" stroke-width="2.3" stroke-opacity="0.22"/><path d="M55.3,395.3 H63.1 V397.2 H78.6 V400.8 H82.8 V402.5 H86.8 V404.7 H101.5 V406.4 H117.7 V408.4 H128.8 V414.3 H132.4 V416.2 H136.4 V418.3 H144.5 V420.3 H148.5 V422.2 H167.4 V424.3 H190.5 V432.3 H194.6 V434.2 H198.6 V436.3 H202.6 V438.2 H217.5 V439.7 H240.9 V441.9 H248.7 V443.8 H260.4 V445.9 H275.6 V447.8 H283.5 V449.6 H299.2 V451.5 H326.2 V453.6 H339.4" stroke-width="1.05" stroke-opacity="0.8"/></g>
<g transform="translate(0.25,0.15)" fill="none" stroke="#3B7BC6"><path d="M55.3,395.3 H59.2 V396.6 H63.1 V399.2 H70.4 V400.5 H78.2 V402.5 H82.2 V412.3 H86.1 V417.6 H90.1 V421.3 H94 V427.4 H97.3 V430.7 H101.2 V432.3 H105.2 V442.3 H109.8 V443.9 H113.7 V451.1 H117.5 V453.1 H120.9 V459.1 H124.9 V462.6 H128.5 V468.2 H136.4 V472.2 H140.6 V474.2 H148.5 V475.7 H155.7 V477.8 H159.7 V485.3 H167.6 V489.3 H171.5 V494.9 H179.1 V500.4 H182.9 V502.2 H186.6 V507.9 H190.5 V513.4 H194.5 V519 H198.4 V522.9 H206 V524.6 H210 V528.2 H213.9 V530.2 H225.3 V532.2 H229.3 V536.1 H240.4 V537.7 H244.4 V541.6 H248.1 V543.6 H252.3 V545.3 H260.1 V547.1 H264.2 V549.2 H271.8 V551.1 H275.5 V553.4 H283.6 V555.1 H291.6 V556.7 H295.4 V558.6 H310.6 V562.5 H314.3 V564.5 H322.3 V566.3 H326 V570.1 H339.4" stroke-width="2.3" stroke-opacity="0.22"/><path d="M55.3,395.3 H59.2 V396.6 H63.1 V399.2 H70.4 V400.5 H78.2 V402.5 H82.2 V412.3 H86.1 V417.6 H90.1 V421.3 H94 V427.4 H97.3 V430.7 H101.2 V432.3 H105.2 V442.3 H109.8 V443.9 H113.7 V451.1 H117.5 V453.1 H120.9 V459.1 H124.9 V462.6 H128.5 V468.2 H136.4 V472.2 H140.6 V474.2 H148.5 V475.7 H155.7 V477.8 H159.7 V485.3 H167.6 V489.3 H171.5 V494.9 H179.1 V500.4 H182.9 V502.2 H186.6 V507.9 H190.5 V513.4 H194.5 V519 H198.4 V522.9 H206 V524.6 H210 V528.2 H213.9 V530.2 H225.3 V532.2 H229.3 V536.1 H240.4 V537.7 H244.4 V541.6 H248.1 V543.6 H252.3 V545.3 H260.1 V547.1 H264.2 V549.2 H271.8 V551.1 H275.5 V553.4 H283.6 V555.1 H291.6 V556.7 H295.4 V558.6 H310.6 V562.5 H314.3 V564.5 H322.3 V566.3 H326 V570.1 H339.4" stroke-width="1.05" stroke-opacity="0.8"/></g>
<g transform="translate(0.25,0.15)" fill="none" stroke="#C9424A"><path d="M399.6,395.3 H403.5 V397 H411 V400.9 H422.6 V402.7 H426.5 V406.4 H430.5 V408.4 H441.6 V410.4 H445.6 V414.3 H453.5 V416.3 H457.4 V418 H461.4 V424.4 H472.8 V426.1 H480.6 V428.3 H492.3 V430.3 H499.9 V432.3 H503.9 V434.3 H507.6 V435.9 H530.9 V438 H534.7 V443.9 H565.3 V445.8 H581.1 V447.8 H592.7 V449.8 H612.3 V451.4 H620 V453.5 H643.3 V455.4 H683.9" stroke-width="2.3" stroke-opacity="0.22"/><path d="M399.6,395.3 H403.5 V397 H411 V400.9 H422.6 V402.7 H426.5 V406.4 H430.5 V408.4 H441.6 V410.4 H445.6 V414.3 H453.5 V416.3 H457.4 V418 H461.4 V424.4 H472.8 V426.1 H480.6 V428.3 H492.3 V430.3 H499.9 V432.3 H503.9 V434.3 H507.6 V435.9 H530.9 V438 H534.7 V443.9 H565.3 V445.8 H581.1 V447.8 H592.7 V449.8 H612.3 V451.4 H620 V453.5 H643.3 V455.4 H683.9" stroke-width="1.05" stroke-opacity="0.8"/></g>
<g transform="translate(0.25,0.15)" fill="none" stroke="#3B7BC6"><path d="M399.6,395.3 H403.5 V408.1 H411.2 V413.6 H415 V417.3 H418.7 V423.5 H422.6 V427.4 H426.3 V439.9 H430.2 V443.9 H434.6 V449.5 H438.3 V459.1 H442.1 V468.2 H446 V470.5 H449.7 V472.2 H453.7 V474.4 H461.5 V479.4 H465.5 V481.4 H469.4 V483.4 H473.1 V487.3 H476.6 V492.8 H480.6 V494.5 H484.5 V502.1 H488.3 V507.9 H492.2 V509.5 H499.7 V511.4 H503.7 V515.4 H511.5 V517.3 H515.5 V521.3 H519.4 V523 H523.1 V528.5 H527 V532.4 H531 V534.2 H542.4 V539.7 H550.3 V541.6 H557.9 V543.6 H561.9 V545.4 H569.4 V547.5 H573.4 V549.4 H577.6 V551.3 H589.2 V552.9 H592.7 V554.8 H604.4 V556.9 H616.2 V558.7 H627.7 V560.4 H635.4 V562.7 H639.5 V564.4 H643.3 V566.2 H654.7 V570 H666.3 V573.9 H670.5 V575.6 H683.8" stroke-width="2.3" stroke-opacity="0.22"/><path d="M399.6,395.3 H403.5 V408.1 H411.2 V413.6 H415 V417.3 H418.7 V423.5 H422.6 V427.4 H426.3 V439.9 H430.2 V443.9 H434.6 V449.5 H438.3 V459.1 H442.1 V468.2 H446 V470.5 H449.7 V472.2 H453.7 V474.4 H461.5 V479.4 H465.5 V481.4 H469.4 V483.4 H473.1 V487.3 H476.6 V492.8 H480.6 V494.5 H484.5 V502.1 H488.3 V507.9 H492.2 V509.5 H499.7 V511.4 H503.7 V515.4 H511.5 V517.3 H515.5 V521.3 H519.4 V523 H523.1 V528.5 H527 V532.4 H531 V534.2 H542.4 V539.7 H550.3 V541.6 H557.9 V543.6 H561.9 V545.4 H569.4 V547.5 H573.4 V549.4 H577.6 V551.3 H589.2 V552.9 H592.7 V554.8 H604.4 V556.9 H616.2 V558.7 H627.7 V560.4 H635.4 V562.7 H639.5 V564.4 H643.3 V566.2 H654.7 V570 H666.3 V573.9 H670.5 V575.6 H683.8" stroke-width="1.05" stroke-opacity="0.8"/></g>
</g>
</svg>
</body></html>
